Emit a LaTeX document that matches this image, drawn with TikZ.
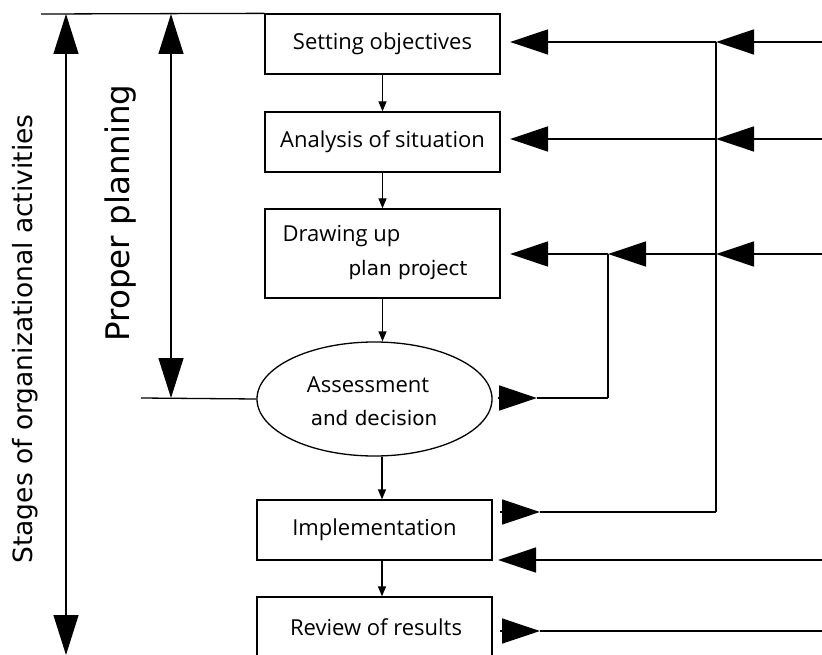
\documentclass[tikz,border=0pt]{standalone}
\usepackage{fontspec}
\setmainfont{Open Sans}
\newfontfamily\dejavu{DejaVu Sans}
\usetikzlibrary{arrows.meta,shapes.geometric}
\begin{document}
\begin{tikzpicture}[x=1pt,y=-1pt, line width=1.3pt,
  box/.style={draw, rectangle, minimum width=235pt, minimum height=60pt, inner sep=0pt,
    font=\fontsize{22}{26}\selectfont},
  lbl/.style={inner sep=0pt, font=\fontsize{22}{26}\selectfont},
  lblv/.style={inner sep=0pt, font=\dejavu\fontsize{20}{24}\selectfont},
  big/.style={-{Triangle[length=38pt,width=25pt]}},
  bigboth/.style={{Triangle[length=40pt,width=25pt]}-{Triangle[length=40pt,width=25pt]}},
  small/.style={-{Triangle[length=10pt,width=8pt]}}]
\clip (0,0) rectangle (822,655);
% boxes
\node[box] (b1) at (382.5,44) {Setting objectives};
\node[box] (b2) at (382.5,142) {Analysis of situation};
\node[box, minimum height=89pt] (b3) at (382.5,253.5) {};
\node[lbl, anchor=west] (t3a) at (282,236) {Drawing up};
\node[lblv] (t3b) at (408,270) {plan project};
\node[draw, ellipse, minimum width=235pt, minimum height=114pt, inner sep=0pt] (e4) at (374.5,399) {};
\node[lbl] (t4a) at (368,385) {Assessment};
\node[lblv] (t4b) at (374,418) {and decision};
\node[box] (b5) at (374.5,530) {Implementation};
\node[box, minimum height=80pt] (b6) at (374.5,637) {};
\node[lbl] (t6) at (376,627) {Review of results};
% vertical labels
\node[rotate=90, inner sep=0pt, font=\dejavu\fontsize{26.5}{30}\selectfont] (stages) at (25,339) {Stages of organizational activities};
\node[rotate=90, inner sep=0pt, font=\dejavu\fontsize{32.5}{36}\selectfont] (pp) at (121,213) {Proper planning};
% small arrows
\draw[small] (b1.south) -- (b2.north);
\draw[small] (b2.south) -- (b3.north);
\draw[small] (b3.south) -- (b3.south |- e4.north);
\draw[small] ([xshift=7.5pt]e4.south) -- ([xshift=7.5pt]b5.north);
\draw[small] ([xshift=7.5pt]b5.south) -- ([xshift=7.5pt]b6.north);
% left side
\coordinate (tl) at (41,14);
\coordinate (o1) at (66,14);
\coordinate (o2) at (66,655);
\coordinate (p1) at (171,14);
\coordinate (p2) at (171,398);
\coordinate (h1) at (141,398);
\draw (tl) -- (b1.north west);
\draw[bigboth] (o1) -- (o2);
\draw[bigboth] (p1) -- (p2);
\draw (h1) -- (e4.west);
% right side coordinates
\coordinate (r1) at (822,42);  \coordinate (j1) at (716,42);  \coordinate (a1) at (510,42);
\coordinate (r2) at (822,139); \coordinate (j2) at (716,139); \coordinate (a2) at (510,139);
\coordinate (r3) at (822,254); \coordinate (j3) at (716,254); \coordinate (k3) at (608,254); \coordinate (a3) at (510,254);
\coordinate (k4) at (608,398); \coordinate (c4s) at (498,398); \coordinate (c4t) at (537,398);
\coordinate (j5) at (716,512); \coordinate (c5s) at (500,512); \coordinate (c5t) at (540,512);
\coordinate (r5) at (822,560); \coordinate (a5) at (498,560);
\coordinate (r6) at (822,631); \coordinate (c6s) at (500,631); \coordinate (c6t) at (540,631);
% right side connectors
\draw[big] (r1) -- (j1);
\draw[big] (j1) -- (a1);
\draw[big] (r2) -- (j2);
\draw[big] (j2) -- (a2);
\draw[big] (r3) -- (j3);
\draw[big] (j3) -- (k3);
\draw[big] (k3) -- (a3);
\draw (j1) -- (j5);
\draw (k3) -- (k4);
\draw[big] (c4s) -- (c4t);
\draw (c4t) -- (k4);
\draw[big] (c5s) -- (c5t);
\draw (c5t) -- (j5);
\draw[big] (r5) -- (a5);
\draw[big] (c6s) -- (c6t);
\draw (c6t) -- (r6);
\end{tikzpicture}
\end{document}
